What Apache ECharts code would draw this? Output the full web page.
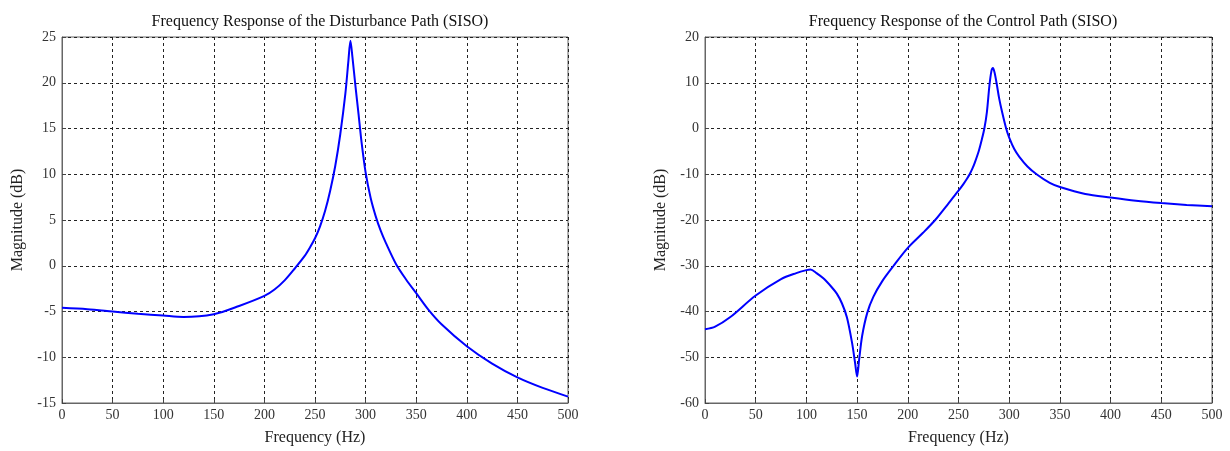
<!DOCTYPE html>
<html>
<head>
<meta charset="utf-8">
<script src="https://cdn.jsdelivr.net/npm/echarts@6/dist/echarts.min.js"></script>
<style>
  html, body { margin: 0; padding: 0; background: #fff; }
  #app { width: 1230px; height: 451px; }
</style>
</head>
<body>
<div id="app"></div>
<script>
    'use strict';

    // disturbance path (left)
    var freqDist = [0, 25, 50, 75, 100, 120, 150, 175, 200, 210, 220, 230, 240, 245, 250, 255, 260, 265, 270, 275, 280, 283,
        285, 287, 290, 293, 296, 300, 305, 310, 315, 320, 330, 340, 350, 362, 375, 400, 425, 450, 475, 500];
    var magDist = [-4.6, -4.75, -5.0, -5.25, -5.45, -5.6, -5.3, -4.4, -3.3, -2.6, -1.6, -0.3, 1.1, 2.0, 3.0, 4.3, 6.0, 8.2, 10.9, 14.4, 18.8, 22.4,
        24.6, 22.8, 19.6, 16.6, 13.5, 10.2, 7.4, 5.4, 3.8, 2.5, 0.2, -1.5, -3.0, -4.8, -6.4, -8.8, -10.7, -12.2, -13.35, -14.3];

    // control path (right)
    var freqCtrl = [0, 10, 25, 50, 75, 90, 100, 104, 110, 117, 125, 130, 135, 140, 145, 148, 150, 152, 155, 160, 166, 175, 186,
        200, 215, 227, 240, 250, 255, 258, 261, 264, 266, 270, 273, 275.5, 278, 280.5, 282.5, 284, 285.5, 287.5, 290, 293, 297,
        300, 305, 310, 318, 327, 340, 350, 375, 400, 425, 450, 475, 500];
    var magCtrl = [-43.9, -43.3, -41.2, -36.5, -32.9, -31.6, -30.95, -30.8, -31.6, -32.8, -34.7, -36.1, -38.2, -41.3, -46.8, -51.2, -54.2, -50.5, -45.3, -40.3, -36.8, -33.3, -30.0,
        -26.1, -22.8, -20.0, -16.4, -13.6, -12.1, -11.1, -10.0, -8.6, -7.5, -4.9, -2.4, 0, 3.6, 9.4, 12.6, 13.2, 12.3, 10.0, 6.7, 3.6, 0,
        -2.0, -4.5, -6.2, -8.3, -10.0, -11.9, -12.8, -14.3, -15.1, -15.8, -16.3, -16.7, -17.0];

    var titles = ['Frequency Response of the Disturbance Path (SISO)', 'Frequency Response of the Control Path (SISO)'];
    var xName = 'Frequency (Hz)';
    var yName = 'Magnitude (dB)';

    var FONT = '"Liberation Serif", "DejaVu Serif", serif';

    function pairs(xs, ys) {
        return xs.map(function (x, i) { return [x, ys[i]]; });
    }

    function xAxisFor(idx) {
        return {
            gridIndex: idx, type: 'value', min: 0, max: 500, interval: 50,
            name: xName, nameLocation: 'middle', nameGap: 27,
            nameTextStyle: { fontFamily: FONT, fontSize: 16, color: '#222' },
            axisLine: { onZero: false, lineStyle: { color: '#666' } },
            axisTick: { inside: true, length: 4, lineStyle: { color: '#444' } },
            axisLabel: { fontFamily: FONT, fontSize: 14, color: '#333', margin: 5 },
            splitLine: { show: true, lineStyle: { color: '#222', type: [3, 3], width: 1 } }
        };
    }

    function yAxisFor(idx, min, max, step) {
        return {
            gridIndex: idx, type: 'value', min: min, max: max, interval: step,
            name: yName, nameLocation: 'middle', nameGap: 36,
            nameTextStyle: { fontFamily: FONT, fontSize: 16, color: '#222' },
            axisLine: { show: true, onZero: false, lineStyle: { color: '#666' } },
            axisTick: { show: true, inside: true, length: 4, lineStyle: { color: '#444' } },
            axisLabel: { fontFamily: FONT, fontSize: 14, color: '#333', margin: 6 },
            splitLine: { show: true, lineStyle: { color: '#222', type: [3, 3], width: 1 } }
        };
    }

    function lineSeries(idx, data) {
        return {
            type: 'line', xAxisIndex: idx, yAxisIndex: idx, data: data,
            showSymbol: false, smooth: 0.3,
            lineStyle: { color: '#0000ff', width: 2 }
        };
    }

    var chart = echarts.init(document.getElementById('app'));
    chart.setOption({
        animation: false,
        backgroundColor: '#fff',
        title: [
            { text: titles[0], left: 315, top: 9, textAlign: 'center',
              textStyle: { fontFamily: FONT, fontSize: 16, fontWeight: 'normal', color: '#111' } },
            { text: titles[1], left: 958, top: 9, textAlign: 'center',
              textStyle: { fontFamily: FONT, fontSize: 16, fontWeight: 'normal', color: '#111' } }
        ],
        grid: [
            { left: 62, right: 662, top: 37, bottom: 44, show: true, borderColor: '#666', borderWidth: 1 },
            { left: 705, right: 18, top: 37, bottom: 44, show: true, borderColor: '#666', borderWidth: 1 }
        ],
        xAxis: [xAxisFor(0), xAxisFor(1)],
        yAxis: [yAxisFor(0, -15, 25, 5), yAxisFor(1, -60, 20, 10)],
        series: [
            lineSeries(0, pairs(freqDist, magDist)),
            lineSeries(1, pairs(freqCtrl, magCtrl))
        ]
    });
</script>
</body>
</html>
